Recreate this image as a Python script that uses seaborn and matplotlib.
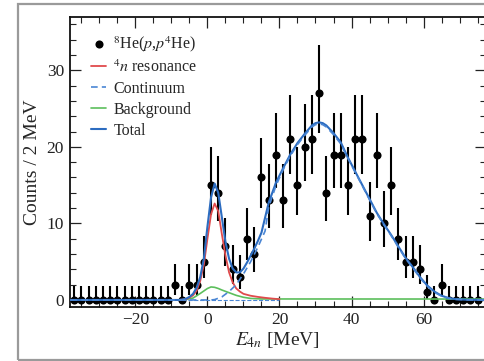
import numpy as np
import pandas as pd
import matplotlib
matplotlib.use('Agg')
import matplotlib.pyplot as plt
import seaborn as sns
from matplotlib.ticker import MultipleLocator
from matplotlib.patches import Rectangle

# ---- measured spectrum (2 MeV bins) ----
bin_centers = [-37, -35, -33, -31, -29, -27, -25, -23, -21, -19, -17, -15, -13, -11,
               -9, -7, -5, -3, -1, 1, 3, 5, 7, 9, 11, 13, 15, 17, 19, 21, 23, 25, 27,
               29, 31, 33, 35, 37, 39, 41, 43, 45, 47, 49, 51, 53, 55, 57, 59, 61, 63,
               65, 67, 69, 71, 73, 75]
counts = [0, 0, 0, 0, 0, 0, 0, 0, 0, 0, 0, 0, 0, 0,
          2, 0, 2, 2, 5, 15, 14, 7, 4, 3, 8, 6, 16, 13, 19, 13, 21, 15, 20,
          21, 27, 14, 19, 19, 15, 21, 21, 11, 19, 10, 15, 8, 5, 5, 4, 1, 0,
          2, 0, 0, 0, 0, 0]

# Poisson (68%) interval bounds for each count level seen in the data
count_levels = [0, 1, 2, 3, 4, 5, 6, 7, 8, 10, 11, 13, 14, 15, 16, 19, 20, 21, 27]
lower_bound = [0, 0.17, 0.71, 1.37, 2.09, 2.84, 3.62, 4.42, 5.23, 6.89, 7.73, 9.44,
               10.30, 11.16, 12.04, 14.67, 15.56, 16.45, 21.84]
upper_bound = [1.84, 3.30, 4.64, 5.92, 7.16, 8.38, 9.58, 10.77, 11.95, 14.27, 15.42,
               17.70, 18.84, 19.97, 21.10, 24.47, 25.59, 26.71, 33.26]

# ---- fit components ----
total_x = [-38, -8, -7, -6, -5, -4, -3, -2, -1, 0, 1, 2, 3, 4, 5, 6, 7, 8, 9, 10, 11,
           12, 13, 14, 15, 17, 19, 21, 23, 25, 27, 29, 30, 31, 32, 33, 35, 37, 39, 41,
           43, 45, 47, 49, 51, 53, 55, 57, 59, 61, 63, 65, 67, 69, 72, 78]
total_y = [0, 0, 0.05, 0.15, 0.4, 0.8, 1.6, 3.0, 5.4, 9.6, 13.4, 15.2, 14.0, 10.8,
           7.6, 5.4, 4.1, 3.6, 3.6, 4.1, 4.9, 5.8, 6.7, 7.7, 8.8, 12.7, 15.3, 17.2,
           19.0, 20.5, 21.7, 22.8, 23.1, 23.2, 23.1, 22.8, 21.8, 20.6, 18.6, 16.8,
           15.0, 13.2, 11.4, 9.9, 8.5, 7.0, 5.5, 4.3, 3.0, 1.9, 1.1, 0.55, 0.25, 0.1,
           0.03, 0]

resonance_x = [-38, -8, -6, -5, -4, -3, -2, -1, 0, 1, 2, 3, 4, 5, 6, 7, 8, 9, 10, 12,
               14, 16, 18, 20]
resonance_y = [0, 0, 0.1, 0.3, 0.6, 1.2, 2.5, 4.6, 8.0, 11.2, 12.6, 11.6, 8.6, 5.8,
               3.6, 2.3, 1.5, 1.1, 0.8, 0.55, 0.4, 0.28, 0.18, 0.1]

continuum_x = [-38, 1, 2, 4, 6, 8, 10, 12, 14, 16, 17, 19, 21, 23, 25, 27, 29, 30, 31,
               32, 33, 35, 37, 39, 41, 43, 45, 47, 49, 51, 53, 55, 57, 59, 61, 63, 65,
               67, 69, 72, 78]
continuum_y = [0, 0, 0.05, 0.4, 1.1, 2.0, 3.4, 5.0, 6.9, 9.0, 12.1, 14.9, 17.0, 18.8,
               20.3, 21.5, 22.6, 22.9, 23.0, 22.9, 22.6, 21.6, 20.4, 18.5, 16.7, 14.9,
               13.1, 11.3, 9.8, 8.4, 6.9, 5.4, 4.2, 2.9, 1.8, 1.0, 0.5, 0.2, 0.08,
               0.02, 0]

background_x = [-38, -8, -6, -4, -2, 0, 1, 2, 3, 4, 6, 8, 10, 12, 15, 78]
background_y = [0, 0, 0.05, 0.25, 0.85, 1.5, 1.7, 1.65, 1.5, 1.3, 0.95, 0.6, 0.35,
                0.2, 0.13, 0.12]

RED = '#e04a4c'
BLUE = '#2c6cc0'
DASH_BLUE = '#4a86d4'
GREEN = '#5cbf5c'

sns.set_theme(style='ticks')
plt.rcParams['font.family'] = ['Liberation Serif', 'DejaVu Serif']
plt.rcParams['mathtext.fontset'] = 'stix'
plt.rcParams['axes.unicode_minus'] = True

fig = plt.figure(figsize=(4.84, 3.61), dpi=100)
ax = fig.add_axes([69.5 / 484, 1 - 306.7 / 361, 416 / 484, 290 / 361])

# data points with asymmetric Poisson error bars
df = pd.DataFrame({'E': bin_centers, 'N': counts})
band = pd.DataFrame({'N': count_levels, 'lo': lower_bound, 'hi': upper_bound})
df = df.merge(band, on='N', how='left')
ax.errorbar(df['E'], df['N'], yerr=[df['N'] - df['lo'], df['hi'] - df['N']],
            fmt='none', ecolor='black', elinewidth=1.5, capsize=0, zorder=2)
sns.scatterplot(data=df, x='E', y='N', ax=ax, color='black', s=34, linewidth=0,
                label=r'$^{8}$He($p$,$p^{4}$He)', zorder=3)

# fit components
sns.lineplot(x=background_x, y=background_y, ax=ax, color=GREEN, lw=1.2,
             sort=False, estimator=None, label='Background', zorder=4)
sns.lineplot(x=resonance_x, y=resonance_y, ax=ax, color=RED, lw=1.3,
             sort=False, estimator=None, label=r'$^{4}n$ resonance', zorder=5)
sns.lineplot(x=total_x, y=total_y, ax=ax, color=BLUE, lw=1.5,
             sort=False, estimator=None, label='Total', zorder=6)
sns.lineplot(x=continuum_x, y=continuum_y, ax=ax, color=DASH_BLUE, lw=1.2,
             sort=False, estimator=None, label='Continuum', zorder=7)
ax.lines[-1].set_dashes([4, 2.5])
ax.hlines(0, -7, 20, colors=DASH_BLUE, linestyles='--', lw=0.8, zorder=4)

ax.set_xlim(-38.3, 77.2)
ax.set_ylim(-0.88, 37.0)
ax.xaxis.set_major_locator(MultipleLocator(20))
ax.xaxis.set_minor_locator(MultipleLocator(5))
ax.yaxis.set_major_locator(MultipleLocator(10))
ax.yaxis.set_minor_locator(MultipleLocator(2))
ax.tick_params(which='both', direction='in', top=True, right=True, colors='#222222',
               labelsize=12.5, pad=4)
ax.tick_params(which='major', length=8, width=0.9)
ax.tick_params(which='minor', length=4, width=0.8)
for sp in ax.spines.values():
    sp.set_linewidth(1.3)
    sp.set_color('#111111')

ax.set_xlabel(r'$E_{4n}$ [MeV]', fontsize=14, labelpad=1)
ax.set_ylabel('Counts / 2 MeV', fontsize=14, labelpad=4)

handles, labels = ax.get_legend_handles_labels()
order = [r'$^{8}$He($p$,$p^{4}$He)', r'$^{4}n$ resonance', 'Continuum', 'Background', 'Total']
hmap = dict(zip(labels, handles))
ax.legend([hmap[k] for k in order], order, loc='upper left',
          bbox_to_anchor=(0.052, 0.94), frameon=False, fontsize=11.5,
          handlelength=0.95, handletextpad=0.45, labelspacing=0.32, borderpad=0,
          borderaxespad=0)

# grey frame around the figure
fig.patches.append(Rectangle((17.5 / 484, 1.2 / 361), 1.2, 355.5 / 361,
                             transform=fig.transFigure, fill=False,
                             edgecolor='#9a9a9a', lw=1.6, zorder=0))

fig.savefig('out.png', dpi=100)
plt.close(fig)
